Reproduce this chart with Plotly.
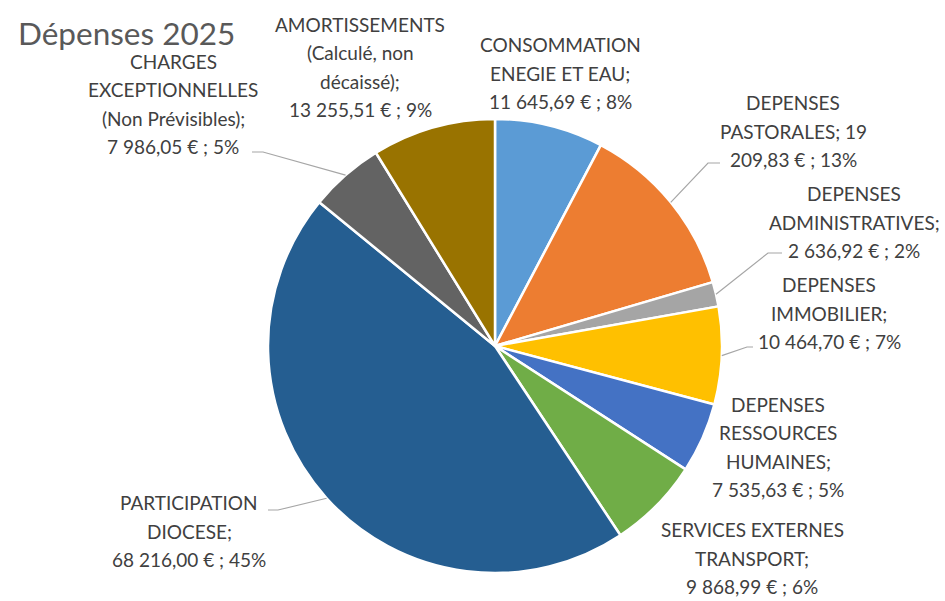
import math
import plotly.graph_objects as go

# ---------------- data ----------------
categories = [
    "CONSOMMATION ENEGIE ET EAU",
    "DEPENSES PASTORALES",
    "DEPENSES ADMINISTRATIVES",
    "DEPENSES IMMOBILIER",
    "DEPENSES RESSOURCES HUMAINES",
    "SERVICES EXTERNES TRANSPORT",
    "PARTICIPATION DIOCESE",
    "CHARGES EXCEPTIONNELLES (Non Prévisibles)",
    "AMORTISSEMENTS (Calculé, non décaissé)",
]
values = [11645.69, 19209.83, 2636.92, 10464.70, 7535.63, 9868.99, 68216.00, 7986.05, 13255.51]
percent_labels = [8, 13, 2, 7, 5, 6, 45, 5, 9]
colors = ["#5B9BD5", "#ED7D31", "#A5A5A5", "#FFC000", "#4472C4",
          "#70AD47", "#255E91", "#636363", "#997300"]
title_text = "Dépenses 2025"

# ---------------- layout / style ----------------
W, H = 945, 601
CX, CY, R = 495, 346, 227          # pie centre & radius (px)
FONT = "Lato, Calibri, sans-serif"
TXT = "#404040"
LINE_H = 28.5
FS = 19

# words per wrapped line for each label
line_word_counts = [[1, 3, 5], [1, 2, 4], [1, 1, 5], [1, 1, 5], [1, 1, 1, 5],
                    [2, 1, 5], [1, 1, 5], [1, 1, 2, 5], [1, 2, 1, 5]]
# centre of each label block (px)
label_centers = [(560, 73), (793, 131), (854, 222), (829, 313), (778, 447),
                 (752, 558), (189, 531), (173, 104), (360, 67)]
# leader lines: index -> (label-side point, elbow point) in px
leaders = {
    7: ((252, 152), (263, 152)),
    1: ((720, 163), (708, 163)),
    2: ((782, 253), (768, 253)),
    3: ((753, 347), (747, 347)),
    6: ((268, 510), (278, 510)),
}


def money(v):
    s = f"{v:,.2f}"
    return s.replace(",", " ").replace(".", ",")


def px(x):
    return x / W


def py(y):
    return 1 - y / H


total = sum(values)

fig = go.Figure(go.Pie(
    labels=categories, values=values, sort=False, direction="clockwise",
    rotation=0, textinfo="none", showlegend=False,
    marker=dict(colors=colors, line=dict(color="white", width=2.5)),
    domain=dict(x=[px(CX - R), px(CX + R)], y=[py(CY + R), py(CY - R)]),
))

annotations = [dict(text=title_text, x=px(16), y=py(33), xref="paper", yref="paper",
                    xanchor="left", yanchor="middle", showarrow=False,
                    font=dict(family=FONT, size=31.5, color="#595959"))]

for i, cat in enumerate(categories):
    full = f"{cat}; {money(values[i])} € ; {percent_labels[i]}%"
    tokens = full.split(" ")
    lines, k = [], 0
    for n in line_word_counts[i]:
        lines.append(" ".join(tokens[k:k + n]))
        k += n
    cx, cy = label_centers[i]
    n = len(lines)
    for j, ln in enumerate(lines):
        yy = cy + (j - (n - 1) / 2) * LINE_H
        annotations.append(dict(text=ln, x=px(cx), y=py(yy), xref="paper", yref="paper",
                                xanchor="center", yanchor="middle", showarrow=False,
                                font=dict(family=FONT, size=FS, color=TXT)))

shapes = []
cum = 0
mids = []
for v in values:
    mids.append((cum + v / 2) / total * 2 * math.pi)
    cum += v
for i, (p0, p1) in leaders.items():
    ax = CX + R * math.sin(mids[i])
    ay = CY - R * math.cos(mids[i])
    path = (f"M {px(p0[0])},{py(p0[1])} L {px(p1[0])},{py(p1[1])} "
            f"L {px(ax)},{py(ay)}")
    shapes.append(dict(type="path", path=path, xref="paper", yref="paper",
                       line=dict(color="#A6A6A6", width=1.2)))

fig.update_layout(
    width=W, height=H, margin=dict(l=0, r=0, t=0, b=0),
    paper_bgcolor="white", plot_bgcolor="white",
    annotations=annotations, shapes=shapes,
)
fig.write_html("out.html", config={"displayModeBar": False},
               post_script="document.body.style.margin='0';document.body.style.overflow='hidden';")
